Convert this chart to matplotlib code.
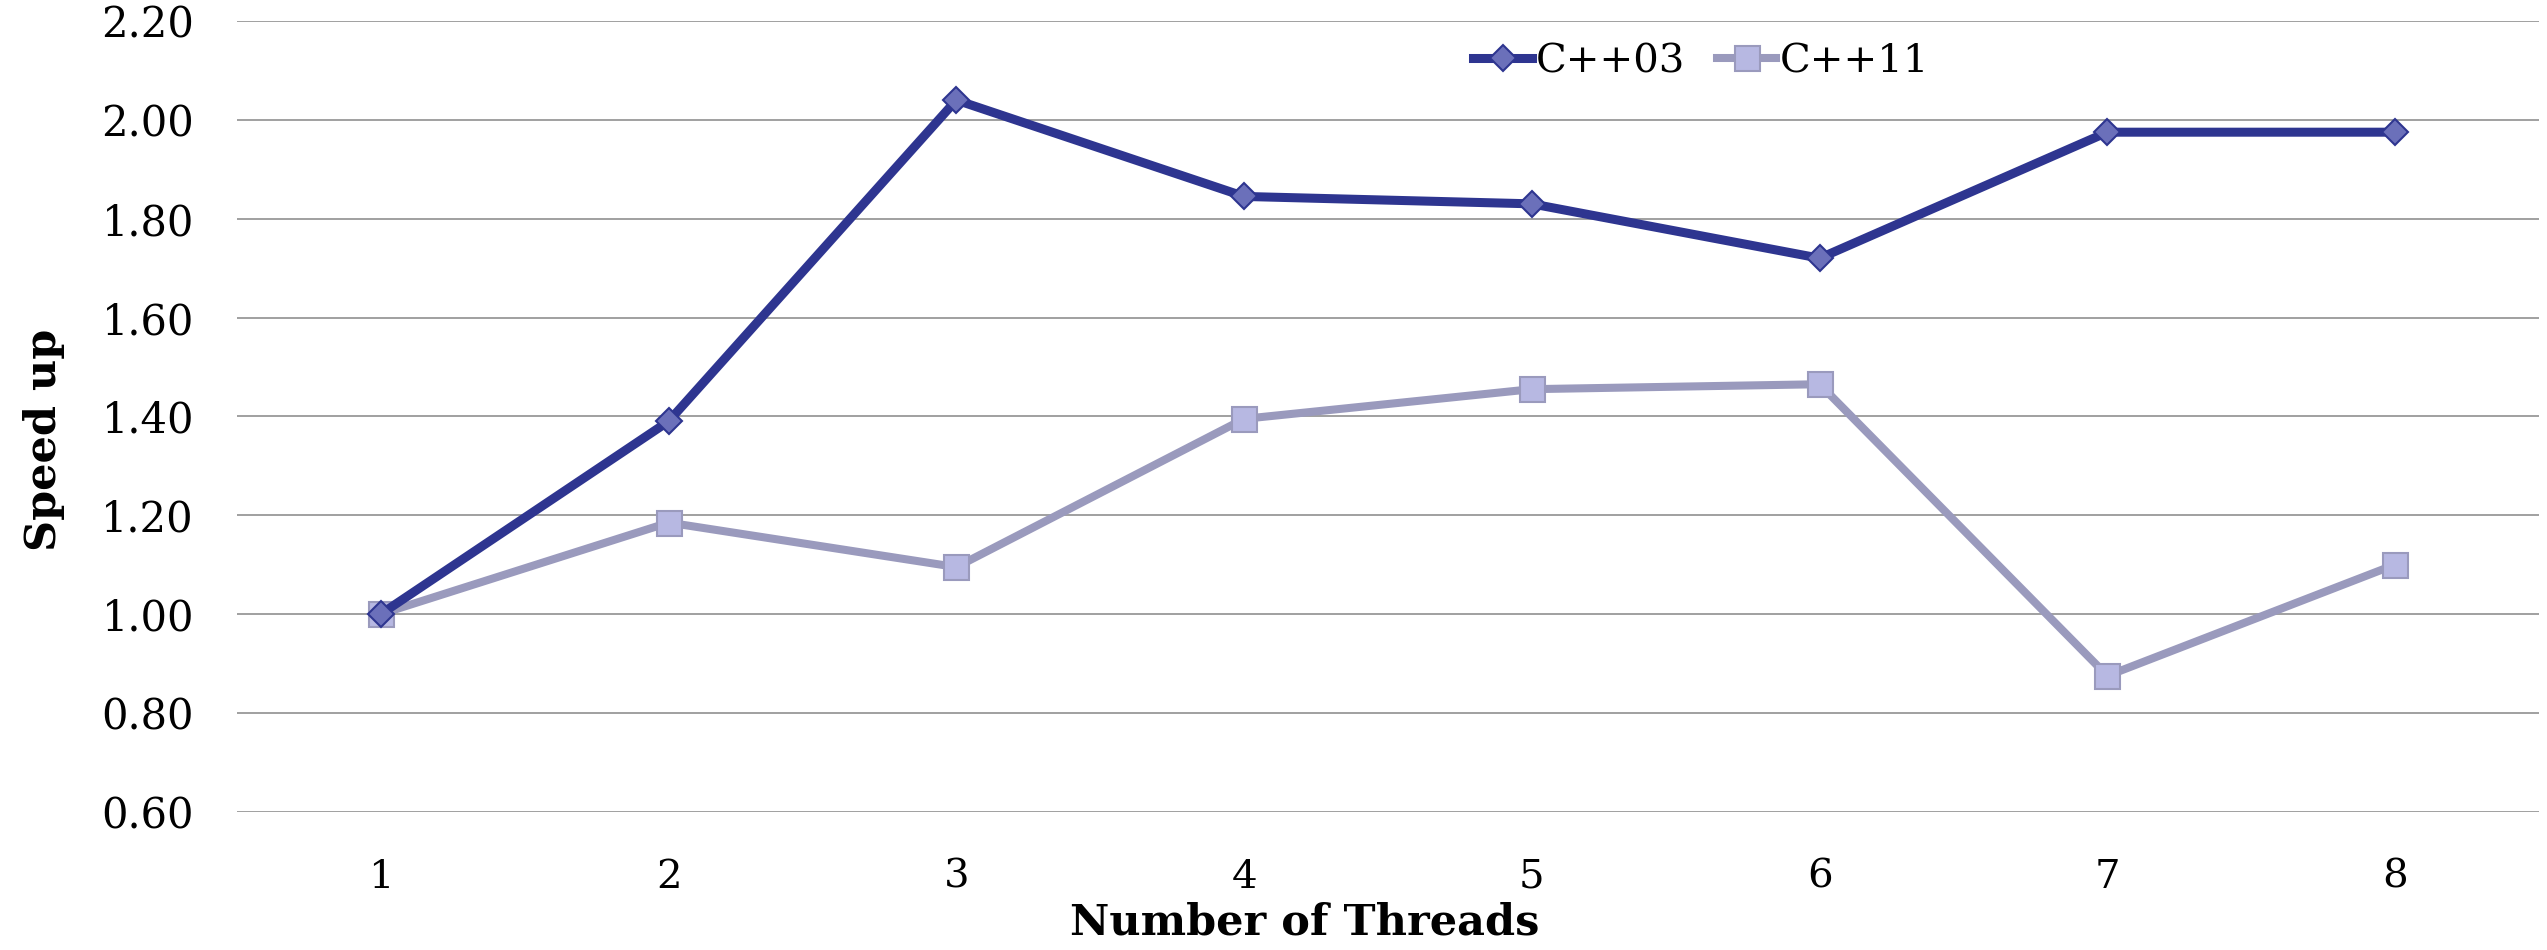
import numpy as np
import matplotlib
matplotlib.use('Agg')
import matplotlib.pyplot as plt

# data
threads = [1, 2, 3, 4, 5, 6, 7, 8]
cpp03 = [1.00, 1.39, 2.04, 1.845, 1.83, 1.72, 1.975, 1.975]
cpp11 = [1.00, 1.185, 1.095, 1.395, 1.455, 1.465, 0.875, 1.10]
yticks = [0.60, 0.80, 1.00, 1.20, 1.40, 1.60, 1.80, 2.00, 2.20]

tick_font = 'DejaVu Serif'

fig = plt.figure(figsize=(25.47, 9.5), dpi=100)
ax = fig.add_axes([237 / 2547, 1 - 811.7 / 950, (2539 - 237) / 2547, (811.7 - 21) / 950])

ax.plot(threads, cpp03, color='#2E3590', lw=6.5, marker='D', ms=13,
        mfc='#6B70BA', mec='#2E3590', mew=1.5, label='C++03', zorder=4)
ax.plot(threads, cpp11, color='#9A9ABD', lw=5.8, marker='s', ms=18,
        mfc='#B7B8E2', mec='#9A9ABD', mew=1.5, label='C++11', zorder=3)

ax.set_xlim(0.5, 8.5)
ax.set_ylim(0.6, 2.2)
ax.set_xticks(threads)
ax.set_xticklabels([str(t) for t in threads], fontfamily=tick_font, fontsize=29)
ax.set_yticks(yticks)
ax.set_yticklabels(['%.2f' % v for v in yticks], fontfamily=tick_font, fontsize=30)
ax.tick_params(axis='both', length=0)
ax.tick_params(axis='x', pad=34)
ax.tick_params(axis='y', pad=31)

ax.grid(axis='y', color='#A0A0A0', lw=1.4)
ax.set_axisbelow(True)
for s in ax.spines.values():
    s.set_visible(False)

ax.set_xlabel('Number of Threads', fontfamily=tick_font, fontweight='bold', fontsize=31)
ax.xaxis.set_label_coords((1305 - 237) / 2302, -0.114)
ax.set_ylabel('Speed up', fontfamily=tick_font, fontweight='bold', fontsize=31)
ax.yaxis.set_label_coords(-0.0747, 0.47)

leg = ax.legend(loc='center left', bbox_to_anchor=((1473 - 237) / 2302, 1 - (62 - 21) / 790.7),
                ncol=2, frameon=False, handlelength=1.47, handletextpad=0.08,
                columnspacing=0.8, borderaxespad=0, borderpad=0,
                prop={'family': tick_font, 'size': 29})

fig.savefig('out.png', dpi=100, facecolor='white')
